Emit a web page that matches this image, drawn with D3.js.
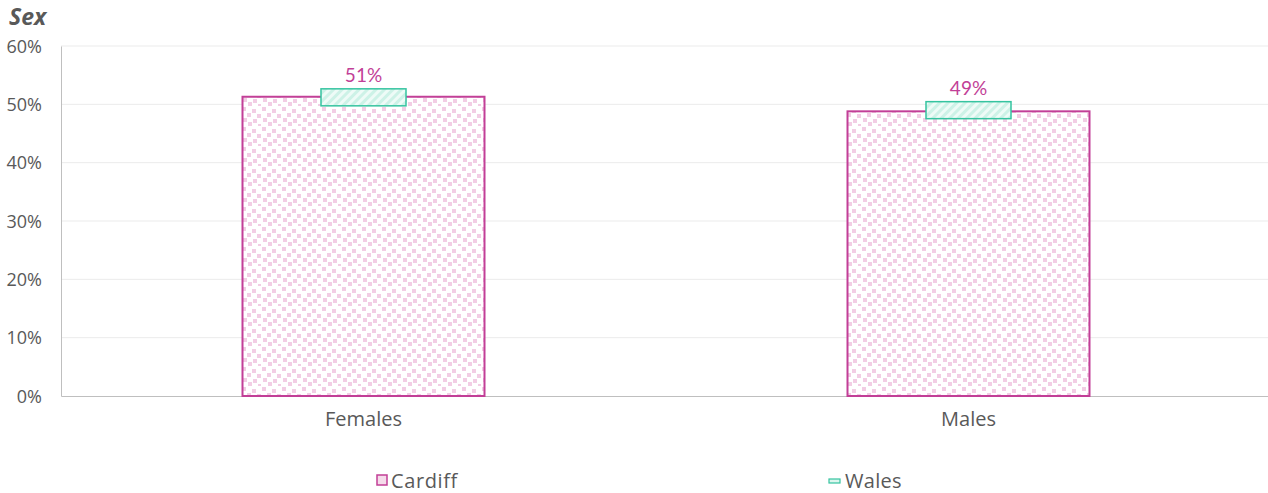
<!DOCTYPE html>
<html lang="en">
<head>
<meta charset="UTF-8">
<title>Sex</title>
<script src="https://d3js.org/d3.v7.min.js"></script>
<style>
    body { margin: 0; background: #fff; overflow: hidden; }
    text { font-family: "Open Sans", Lato, sans-serif; fill: #595959; }
</style>
</head>
<body>
<svg id="chart" width="1268" height="493"></svg>
<script>
    // Data
    const categories = ["Females", "Males"];
    const cardiff = [0.513, 0.488];
    const wales = [0.512, 0.490];
    const labels = ["51%", "49%"];
    const yTicks = [0, 0.1, 0.2, 0.3, 0.4, 0.5, 0.6];

    const pink = "#c23f97";
    const teal = "#35c4a0";

    const margin = { top: 46, right: -3, bottom: 97, left: 61 };
    const width = 1268 - margin.left - margin.right;
    const height = 493 - margin.top - margin.bottom;

    const svg = d3.select("#chart");
    const defs = svg.append("defs");

    // speckled pink pattern for Cardiff
    const dots = defs.append("pattern")
        .attr("id", "dots")
        .attr("patternUnits", "userSpaceOnUse")
        .attr("width", 20).attr("height", 20);
    dots.append("rect").attr("width", 20).attr("height", 20).attr("fill", "#fff");
    [[1, 1], [11, 3], [6, 7], [16, 8], [2, 12], [12, 13], [7, 16], [17, 18]].forEach(p => {
        dots.append("rect")
            .attr("x", p[0]).attr("y", p[1])
            .attr("width", 4).attr("height", 4)
            .attr("fill", "#f2cde4");
    });

    // diagonal stripes for Wales
    const stripes = defs.append("pattern")
        .attr("id", "stripes")
        .attr("patternUnits", "userSpaceOnUse")
        .attr("width", 6).attr("height", 6)
        .attr("patternTransform", "rotate(45)");
    stripes.append("rect").attr("width", 6).attr("height", 6).attr("fill", "#eefbf7");
    stripes.append("rect").attr("width", 3).attr("height", 6).attr("fill", "#cdf2e7");

    const g = svg.append("g").attr("transform", `translate(${margin.left},${margin.top})`);

    const x = d3.scaleBand().domain(categories).range([0, width]).paddingInner(0).paddingOuter(0);
    const y = d3.scaleLinear().domain([0, 0.6]).range([height, 0]);

    // gridlines
    g.selectAll(".grid").data(yTicks.slice(1)).enter().append("line")
        .attr("x1", 0).attr("x2", width)
        .attr("y1", d => y(d)).attr("y2", d => y(d))
        .attr("stroke", "#ebebeb").attr("stroke-width", 1);

    // y axis
    const yAxis = g.append("g")
        .call(d3.axisLeft(y).tickValues(yTicks).tickFormat(d3.format(".0%")).tickSize(0).tickPadding(19));
    yAxis.select(".domain").attr("stroke", "#bfbfbf");
    yAxis.selectAll("text").attr("font-size", 18).style("fill", "#595959").attr("dy", "0.35em");

    // x axis
    const xAxis = g.append("g")
        .attr("transform", `translate(0,${height})`)
        .call(d3.axisBottom(x).tickSize(0).tickPadding(16));
    xAxis.select(".domain").attr("stroke", "#bfbfbf");
    xAxis.selectAll("text").attr("font-size", 20).style("fill", "#595959");

    // Cardiff bars
    const barW = x.bandwidth() * 0.4;
    g.selectAll(".bar").data(categories).enter().append("rect")
        .attr("x", (d, i) => x(d) + (x.bandwidth() - barW) / 2)
        .attr("y", (d, i) => y(cardiff[i]))
        .attr("width", barW)
        .attr("height", (d, i) => height - y(cardiff[i]))
        .attr("fill", "url(#dots)")
        .attr("stroke", pink).attr("stroke-width", 2);

    // Wales markers
    const mW = 85, mH = 17;
    g.selectAll(".wales").data(categories).enter().append("rect")
        .attr("x", d => x(d) + x.bandwidth() / 2 - mW / 2)
        .attr("y", (d, i) => y(wales[i]) - mH / 2)
        .attr("width", mW).attr("height", mH)
        .attr("fill", "url(#stripes)")
        .attr("stroke", teal).attr("stroke-width", 1.5);

    // data labels
    g.selectAll(".lbl").data(categories).enter().append("text")
        .attr("x", d => x(d) + x.bandwidth() / 2)
        .attr("y", (d, i) => y(wales[i]) - mH / 2 - 7)
        .attr("text-anchor", "middle")
        .attr("font-size", 19)
        .style("font-family", "Lato, sans-serif")
        .style("fill", pink)
        .text((d, i) => labels[i]);

    // title
    svg.append("text")
        .attr("x", 9).attr("y", 25)
        .attr("font-size", 23).attr("font-weight", "bold").attr("font-style", "italic")
        .text("Sex");

    // legend
    const leg = svg.append("g");
    leg.append("rect")
        .attr("x", 377).attr("y", 475).attr("width", 10).attr("height", 10)
        .attr("fill", "#f5dbea").attr("stroke", pink).attr("stroke-width", 1.5);
    leg.append("text").attr("x", 391).attr("y", 488).attr("font-size", 20)
        .attr("letter-spacing", 0.6).text("Cardiff");
    leg.append("rect")
        .attr("x", 829).attr("y", 479).attr("width", 11).attr("height", 4)
        .attr("fill", "#dcf6ee").attr("stroke", teal).attr("stroke-width", 1.2);
    leg.append("text").attr("x", 845).attr("y", 488).attr("font-size", 20)
        .attr("letter-spacing", 0.3).text("Wales");
</script>
</body>
</html>
